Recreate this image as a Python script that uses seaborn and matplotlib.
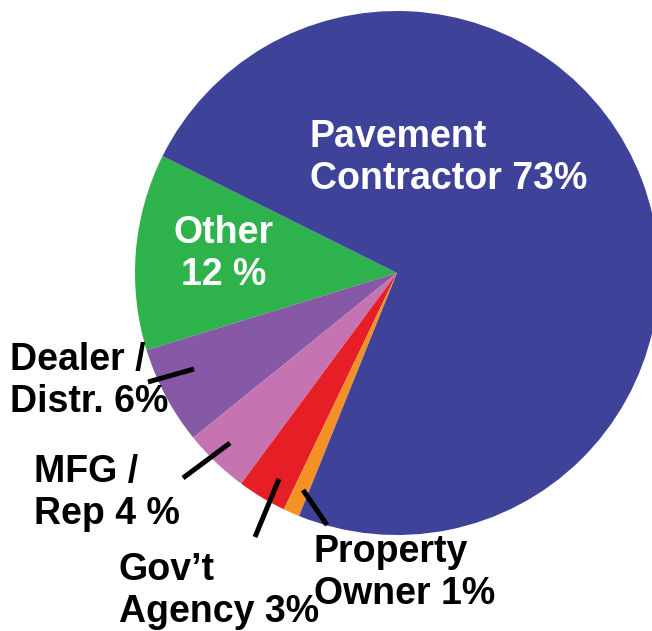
import matplotlib
matplotlib.use("Agg")
import matplotlib.pyplot as plt
import seaborn as sns

# slice data (order = counterclockwise from the green/blue boundary)
categories = ["Other", "Dealer / Distr.", "MFG / Rep", "Gov't Agency", "Property Owner", "Pavement Contractor"]
shares = [12, 6, 4, 3, 1, 73]
labels = ["Other\n12 %", "Dealer /\nDistr. 6%", "MFG /\nRep 4 %", "Gov\u2019t\nAgency 3%",
          "Property\nOwner 1%", "Pavement\nContractor 73%"]
colors = ["#2EB24B", "#8659A6", "#C673B1", "#E51F25", "#F39125", "#3F4299"]

W, H = 652, 631
CENTER = (397, H - 273)
RADIUS = 262

# label placement in pixels (x, y from top), alignment, text colour
label_pos = {
    "Other": (224, 254, "center", "white"),
    "Dealer / Distr.": (10, 381, "left", "black"),
    "MFG / Rep": (34, 493, "left", "black"),
    "Gov't Agency": (119, 591, "left", "black"),
    "Property Owner": (314, 573, "left", "black"),
    "Pavement Contractor": (310, 158, "left", "white"),
}
# leader lines (pixel coords from top)
leaders = {
    "Dealer / Distr.": [(148, 382), (194, 369)],
    "MFG / Rep": [(183, 478), (230, 443)],
    "Gov't Agency": [(255, 537), (279, 479)],
    "Property Owner": [(327, 525), (303, 490)],
}

sns.set_theme(style="white")
plt.rcParams["font.family"] = ["Liberation Sans", "DejaVu Sans"]

fig = plt.figure(figsize=(W / 100, H / 100), dpi=100)
ax = fig.add_axes([0, 0, 1, 1])

ax.pie(shares, colors=colors, startangle=153.5, counterclock=True,
       center=CENTER, radius=RADIUS,
       wedgeprops=dict(linewidth=0.8, edgecolor="none"))

for cat, lab in zip(categories, labels):
    x, y, ha, col = label_pos[cat]
    ax.text(x, H - y, lab, ha=ha, va="center", multialignment=ha,
            fontsize=27, fontweight="bold", color=col, linespacing=1.2)

for cat, pts in leaders.items():
    xs = [p[0] for p in pts]
    ys = [H - p[1] for p in pts]
    ax.plot(xs, ys, color="black", lw=3.6, solid_capstyle="butt")

ax.set_xlim(0, W)
ax.set_ylim(0, H)
ax.set_aspect("auto")
ax.axis("off")

fig.savefig("out.png", dpi=100, facecolor="white")
